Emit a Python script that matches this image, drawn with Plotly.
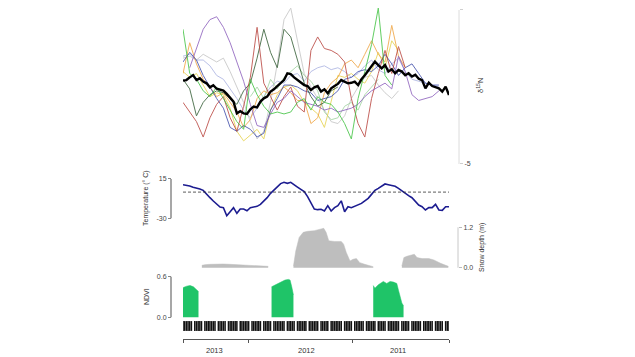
import plotly.graph_objects as go

# ---------------- data ----------------
# time index (sampling periods, left = most recent)
mean_week = list(range(80))
iso_week = list(range(0, 80, 2))

# mean d15N (thick black line)
iso_mean = [-0.67, -0.64, -0.50, -0.38, -0.64, -0.55, -0.72, -0.81, -1.02, -0.91,
            -1.09, -1.16, -1.19, -1.36, -1.54, -1.76, -2.37, -2.26, -2.37, -2.40,
            -2.16, -2.02, -2.06, -1.76, -1.59, -1.50, -1.24, -1.12, -0.95, -0.78,
            -0.64, -0.29, -0.33, -0.50, -0.64, -0.78, -0.90, -0.95, -1.16, -1.02,
            -0.95, -1.24, -1.12, -1.33, -1.07, -0.95, -0.84, -0.64, -0.72, -0.81,
            -0.78, -0.72, -0.90, -0.60, -0.39, -0.15, 0.06, 0.32, 0.14, -0.03,
            0.14, -0.20, -0.08, -0.29, -0.12, -0.20, -0.39, -0.29, -0.46, -0.36,
            -0.57, -0.64, -1.07, -0.78, -0.95, -1.02, -1.07, -1.24, -0.98, -1.42]

# individual d15N series (every 2 periods)
iso_green = [2.0, -0.3, -0.6, -1.2, -1.5, -1.0, -1.6, -2.2, -2.8, -3.2,
             -0.6, -1.4, -2.0, -2.4, -2.3, -2.4, -2.3, -1.8, -1.6, -2.2,
             -1.5, -1.8, -1.9, -2.3, -2.9, -3.7, -1.6, -0.2, 1.2, 3.1,
             -0.4, -0.9, None, None, None, None, None, None, None, None]
iso_purple = [None, 0.0, 1.0, 2.0, 2.5, 2.65, 2.1, 1.3, 0.3, -0.7,
              -1.9, -3.0, -3.1, -2.4, -1.8, -1.6, -1.2, -1.5, -1.8, -1.9,
              -2.0, -2.2, -2.1, -2.3, -2.2, -2.1, -1.9, -1.5, -1.2, -1.0,
              -0.8, -1.1, 0.6, -0.2, -1.4, -1.7, -1.6, -1.5, -1.2, None]
iso_lightgray = [0.5, 0.6, 0.4, 0.7, 0.5, 0.3, 0.5, -0.2, -1.0, -1.8,
                 -2.8, -3.7, -3.3, -1.8, 0.2, 2.5, 3.1, 1.4, -0.3, -1.0,
                 -1.6, -2.2, -2.8, -2.9, -2.5, -1.6, -1.0, -0.5, -0.4, -0.9,
                 -1.3, -1.6, -1.2, None, None, None, None, None, None, None]
iso_darkgreen = [-0.6, -1.1, -2.5, -1.8, -1.4, -1.2, -1.3, -1.6, -1.9, -1.2,
                 -0.8, 0.5, 2.0, 0.8, 0.0, 2.0, 1.6, 0.4, -0.8, -1.5,
                 -2.0, -1.8, -1.2, -1.0, None, None, None, None, None, None,
                 None, None, None, None, None, None, None, None, None, None]
iso_red = [-1.8, -2.3, -2.8, -3.6, -2.6, -1.9, -1.5, -2.6, -3.3, -2.0,
           -0.5, 2.1, -0.8, -1.5, -2.2, -1.5, -1.0, -2.0, -2.3, 0.9,
           1.6, 1.0, 0.9, 0.7, 0.3, -1.6, -2.9, -3.6, -1.6, -0.3,
           0.9, -0.3, 1.1, 0.0, None, None, None, None, None, None]
iso_orange = [-0.3, 1.3, 0.2, -0.6, -1.0, -1.5, -1.3, -1.8, -2.3, -3.1,
              -2.7, -1.6, -1.2, -1.4, -1.3, -1.0, -1.3, -1.7, -1.7, -2.9,
              -2.6, -1.3, -0.8, -0.5, 0.2, 0.4, 0.0, 0.7, 1.4, 0.7,
              0.3, 2.2, 0.6, 0.0, None, None, None, None, None, None]
iso_yellow = [-0.2, -0.5, -0.3, -0.9, -1.5, -1.3, -1.4, -2.1, -3.3, -3.8,
              -3.5, -3.2, -3.7, -2.2, -1.4, -1.0, -0.9, -1.2, -1.8, -2.1,
              -2.4, -3.1, -1.8, -0.4, -0.5, -0.3, -0.6, -0.8, -0.2, 0.8,
              0.0, 1.4, 0.9, None, None, None, None, None, None, None]
iso_navy = [0.3, 0.8, 0.4, -0.4, -1.0, -1.6, -2.1, -3.1, -3.3, -3.0,
            -3.2, -3.6, -3.4, -2.2, -1.6, -0.9, -0.9, -1.0, -1.2, -1.3,
            -1.7, -1.6, -1.5, -1.2, -0.6, -0.5, -0.2, -0.1, -0.2, 0.1,
            0.7, 0.2, -0.4, 0.0, 0.2, -0.3, -0.8, -0.9, -0.9, None]
iso_lightgreen = [None, None, None, None, None, None, None, None, None, None,
                  -1.5, -1.0, -1.6, -0.6, -1.1, -0.5, -0.2, 0.1, -0.4, -0.7,
                  -1.2, -2.3, -2.7, -2.6, -2.0, -1.8, -2.2, -1.4, -1.0, -0.6,
                  None, None, None, None, None, None, None, None, None, None]
iso_lavender = [0.6, 0.7, 0.4, 0.4, 0.1, -0.4, -0.6, -1.1, -1.6, -2.2,
                -2.6, -2.1, -1.5, -1.0, -0.7, -0.8, -0.4, -0.3, -0.7, -0.2,
                0.0, 0.1, -0.1, 0.0, -0.2, -0.5, -0.3, 0.1, 0.4, -0.1,
                -0.3, 0.2, 0.5, -0.2, -0.6, -0.7, -0.8, -0.9, -1.0, None]

# temperature (deg C)
temperature = [8.5, 8.1, 7.0, 5.5, 4.7, 3.6, 2.0, -2.6, -6.4, -10.2,
               -14.0, -17.1, -17.8, -27.0, -22.4, -17.8, -24.3, -19.4, -19.4, -21.3,
               -17.8, -16.7, -16.3, -14.0, -10.2, -6.4, -1.4, 2.4, 6.6, 9.7,
               11.2, 10.0, 11.2, 8.9, 5.8, 3.2, 0.5, -5.2, -12.9, -19.4,
               -20.1, -19.7, -21.6, -15.5, -21.6, -17.8, -15.5, -10.0, -22.4, -16.7,
               -17.8, -16.3, -14.0, -12.9, -10.0, -7.1, -2.6, 2.0, 4.3, 6.6,
               9.3, 8.5, 7.4, 6.6, 4.3, 1.3, -1.4, -4.1, -6.4, -11.0,
               -14.8, -16.7, -20.5, -17.8, -17.8, -14.0, -20.5, -20.9, -16.7, -16.7]
freezing_point = 0

# snow depth (m), three winters
snow_x_2013 = [5.6, 6.5, 8, 10, 12, 14, 16, 18, 20, 22, 24, 25.3]
snow_2013 = [0.07, 0.09, 0.10, 0.11, 0.11, 0.10, 0.09, 0.09, 0.08, 0.07, 0.05, 0.04]
snow_x_2012 = [32.8, 33.5, 34.5, 35.7, 37, 39, 41, 41.8, 42.5, 43.3, 45, 47, 47.7,
               48.5, 49.6, 50.5, 51.5, 52.5, 54, 55.5, 56.5]
snow_2012 = [0.05, 0.5, 0.9, 1.05, 1.08, 1.10, 1.15, 1.17, 1.05, 0.80, 0.78, 0.78, 0.70,
             0.45, 0.20, 0.25, 0.27, 0.15, 0.10, 0.07, 0.03]
snow_x_2011 = [65, 65.6, 66.5, 68, 68.7, 69.5, 71, 73, 74.5, 76.5, 78.8]
snow_2011 = [0.05, 0.30, 0.34, 0.38, 0.40, 0.30, 0.27, 0.27, 0.23, 0.13, 0.04]

# NDVI, three summers
ndvi_x_2013 = [-0.3, 0.1, 1.1, 2.1, 3.1, 3.8, 4.6]
ndvi_2013 = [0.40, 0.44, 0.46, 0.47, 0.45, 0.41, 0.38]
ndvi_x_2012 = [26.3, 27.8, 29.3, 30.3, 31.3, 31.8, 32.3, 32.8]
ndvi_2012 = [0.45, 0.49, 0.52, 0.55, 0.56, 0.55, 0.45, 0.33]
ndvi_x_2011 = [56.5, 57.0, 58.0, 59.5, 60.5, 61.5, 62.5, 63.5, 64.0, 64.5, 65.0, 65.5]
ndvi_2011 = [0.47, 0.43, 0.48, 0.53, 0.50, 0.53, 0.52, 0.50, 0.40, 0.28, 0.21, 0.17]

# sampling dates (rug)
rug_days = [0.0, 0.5, 1.0, 1.5, 2.0, 2.5,
            3.5, 4.0, 4.5, 5.0, 5.5,
            6.5, 7.0, 7.5, 8.0, 8.5, 9.0, 9.5,
            10.5, 11.0, 11.5, 12.0, 12.5,
            13.5, 14.0, 14.5, 15.0, 15.5, 16.0,
            17.0, 17.5, 18.0, 18.5, 19.0, 19.5,
            20.5, 21.0, 21.5, 22.0, 22.5, 23.0,
            24.0, 24.5, 25.0, 25.5, 26.0,
            27.0, 27.5, 28.0, 28.5, 29.0, 29.5, 30.0,
            31.0, 31.5, 32.0, 32.5, 33.0,
            34.0, 34.5, 35.0, 35.5, 36.0, 36.5,
            37.5, 38.0, 38.5, 39.0, 39.5, 40.0,
            41.0, 41.5, 42.0, 42.5, 43.0,
            44.0, 44.5, 45.0, 45.5, 46.0, 46.5, 47.0,
            48.0, 48.5, 49.0, 49.5, 50.0,
            51.0, 51.5, 52.0, 52.5, 53.0, 53.5,
            54.5, 55.0, 55.5, 56.0, 56.5, 57.0,
            58.0, 58.5, 59.0, 59.5, 60.0,
            61.0, 61.5, 62.0, 62.5, 63.0, 63.5, 64.0,
            65.0, 65.5, 66.0, 66.5, 67.0,
            68.0, 68.5, 69.0, 69.5, 70.0, 70.5,
            71.5, 72.0, 72.5, 73.0, 73.5, 74.0,
            75.0, 75.5, 76.0, 76.5, 77.0,
            78.0, 78.5, 79.0]

# year axis
year_labels = ["2013", "2012", "2011"]
year_label_pos = [9.5, 36.8, 63.9]
year_bounds = [0, 19.6, 50.2, 79]

# ---------------- figure ----------------
# the page body has an 8px margin: the figure is placed at (8, 8)
OFF = 8
W, H = 635 - OFF, 357 - OFF
def fx(p):
    return (p - OFF) / W
def fy(p):
    return 1 - (p - OFF) / H

FONT = "Liberation Sans, Arial, sans-serif"
fig = go.Figure()

thin = [
    (iso_lavender, "#aab2e2"),
    (iso_lightgray, "#c4c4c4"),
    (iso_lightgreen, "#9fd49f"),
    (iso_yellow, "#e6d24a"),
    (iso_orange, "#f0a23c"),
    (iso_navy, "#3a48a8"),
    (iso_darkgreen, "#2f5a30"),
    (iso_red, "#b8403a"),
    (iso_purple, "#8a5cbc"),
    (iso_green, "#3cc23c"),
]
for vals, col in thin:
    fig.add_trace(go.Scatter(x=iso_week, y=vals, mode="lines",
                             line=dict(color=col, width=1), opacity=0.8,
                             xaxis="x", yaxis="y", hoverinfo="skip", showlegend=False))
fig.add_trace(go.Scatter(x=mean_week, y=iso_mean, mode="lines",
                         line=dict(color="black", width=2.4),
                         xaxis="x", yaxis="y", showlegend=False))

fig.add_trace(go.Scatter(x=mean_week, y=temperature, mode="lines",
                         line=dict(color="#1c1c90", width=1.6),
                         xaxis="x", yaxis="y2", showlegend=False))

for xs, ys in [(snow_x_2013, snow_2013), (snow_x_2012, snow_2012), (snow_x_2011, snow_2011)]:
    fig.add_trace(go.Scatter(x=xs, y=ys, mode="lines", fill="tozeroy",
                             fillcolor="#bebebe", line=dict(color="#bebebe", width=0.5),
                             xaxis="x", yaxis="y3", showlegend=False))

for xs, ys in [(ndvi_x_2013, ndvi_2013), (ndvi_x_2012, ndvi_2012), (ndvi_x_2011, ndvi_2011)]:
    fig.add_trace(go.Scatter(x=xs, y=ys, mode="lines", fill="tozeroy",
                             fillcolor="#1fc468", line=dict(color="#1fc468", width=0.5),
                             xaxis="x", yaxis="y4", showlegend=False))

fig.add_trace(go.Scatter(x=rug_days, y=[0] * len(rug_days), mode="markers",
                         marker=dict(symbol="line-ns", size=7,
                                     line=dict(color="#111", width=1.5)),
                         xaxis="x2", yaxis="y5", showlegend=False, hoverinfo="skip"))

xdom = [fx(183), fx(449)]
tick_common = dict(showgrid=False, zeroline=False, showline=False, ticks="outside",
                   ticklen=3, tickfont=dict(size=7, color="#444", family=FONT))

fig.update_layout(
    width=W, height=H, margin=dict(l=0, r=0, t=0, b=0),
    paper_bgcolor="white", plot_bgcolor="rgba(0,0,0,0)",
    font=dict(family=FONT, color="#333"),
    xaxis=dict(domain=xdom, range=[0, 79], visible=False, anchor="y"),
    xaxis2=dict(domain=xdom, range=[0, 79], anchor="free", position=fy(339),
                showline=True, linecolor="#555", linewidth=1, ticks="outside",
                ticklen=3, tickcolor="#555", tickvals=year_bounds,
                showticklabels=False, showgrid=False, zeroline=False),
    yaxis=dict(domain=[fy(170), fy(OFF)], range=[-5.312, 3.519 - (OFF / 19.25)], anchor="free",
               position=fx(459), side="right", tickvals=[3, -5], ticktext=["3", "-5"],
               tickcolor="#cfcfcf", **tick_common),
    yaxis2=dict(domain=[fy(224), fy(172)], range=[-36.5, 23.0], anchor="free",
                position=fx(171), side="left", tickvals=[15, -30], ticktext=["15", "-30"],
                tickcolor="#888", **tick_common),
    yaxis3=dict(domain=[fy(272), fy(224)], range=[-0.128, 1.298], anchor="free",
                position=fx(458), side="right", tickvals=[1.2, 0], ticktext=["1.2", "0.0"],
                tickcolor="#bbb", **tick_common),
    yaxis4=dict(domain=[fy(320), fy(272)], range=[-0.040, 0.669], anchor="free",
                position=fx(171), side="left", tickvals=[0.6, 0], ticktext=["0.6", "0.0"],
                tickcolor="#888", **tick_common),
    yaxis5=dict(domain=[fy(333), fy(319)], range=[-1, 1], anchor="x2", visible=False),
)

shapes = [
    dict(type="line", xref="paper", yref="y", x0=fx(459), x1=fx(459), y0=-5, y1=3,
         line=dict(color="#dcdcdc", width=1)),
    dict(type="line", xref="paper", yref="y2", x0=fx(171), x1=fx(171), y0=-30, y1=15,
         line=dict(color="#8a8a8a", width=1.5)),
    dict(type="line", xref="paper", yref="y3", x0=fx(458), x1=fx(458), y0=0, y1=1.2,
         line=dict(color="#c8c8c8", width=1)),
    dict(type="line", xref="paper", yref="y4", x0=fx(171), x1=fx(171), y0=0, y1=0.6,
         line=dict(color="#8a8a8a", width=1.5)),
    dict(type="line", xref="x", yref="y2", x0=min(mean_week), x1=max(mean_week),
         y0=freezing_point, y1=freezing_point,
         line=dict(color="#333", width=0.8, dash="3px,2px")),
]
fig.update_layout(shapes=shapes)

ann = [
    dict(text="δ<sup>15</sup>N", x=fx(480), y=fy(86), textangle=-90, size=7.5),
    dict(text="Temperature (° C)", x=fx(146), y=fy(198), textangle=-90, size=7),
    dict(text="Snow depth (m)", x=fx(482), y=fy(247), textangle=-90, size=7),
    dict(text="NDVI", x=fx(146), y=fy(297), textangle=-90, size=7),
]
annotations = []
for a in ann:
    annotations.append(dict(text=a["text"], x=a["x"], y=a["y"], xref="paper", yref="paper",
                            textangle=a["textangle"], showarrow=False,
                            font=dict(size=a["size"], color="#333", family=FONT),
                            xanchor="center", yanchor="middle"))
for lab, pos in zip(year_labels, year_label_pos):
    annotations.append(dict(text=lab, x=pos, xref="x2", y=fy(350), yref="paper",
                            showarrow=False, xanchor="center", yanchor="middle",
                            font=dict(size=7.5, color="#333", family=FONT)))
fig.update_layout(annotations=annotations)

fig.write_html("out.html")
